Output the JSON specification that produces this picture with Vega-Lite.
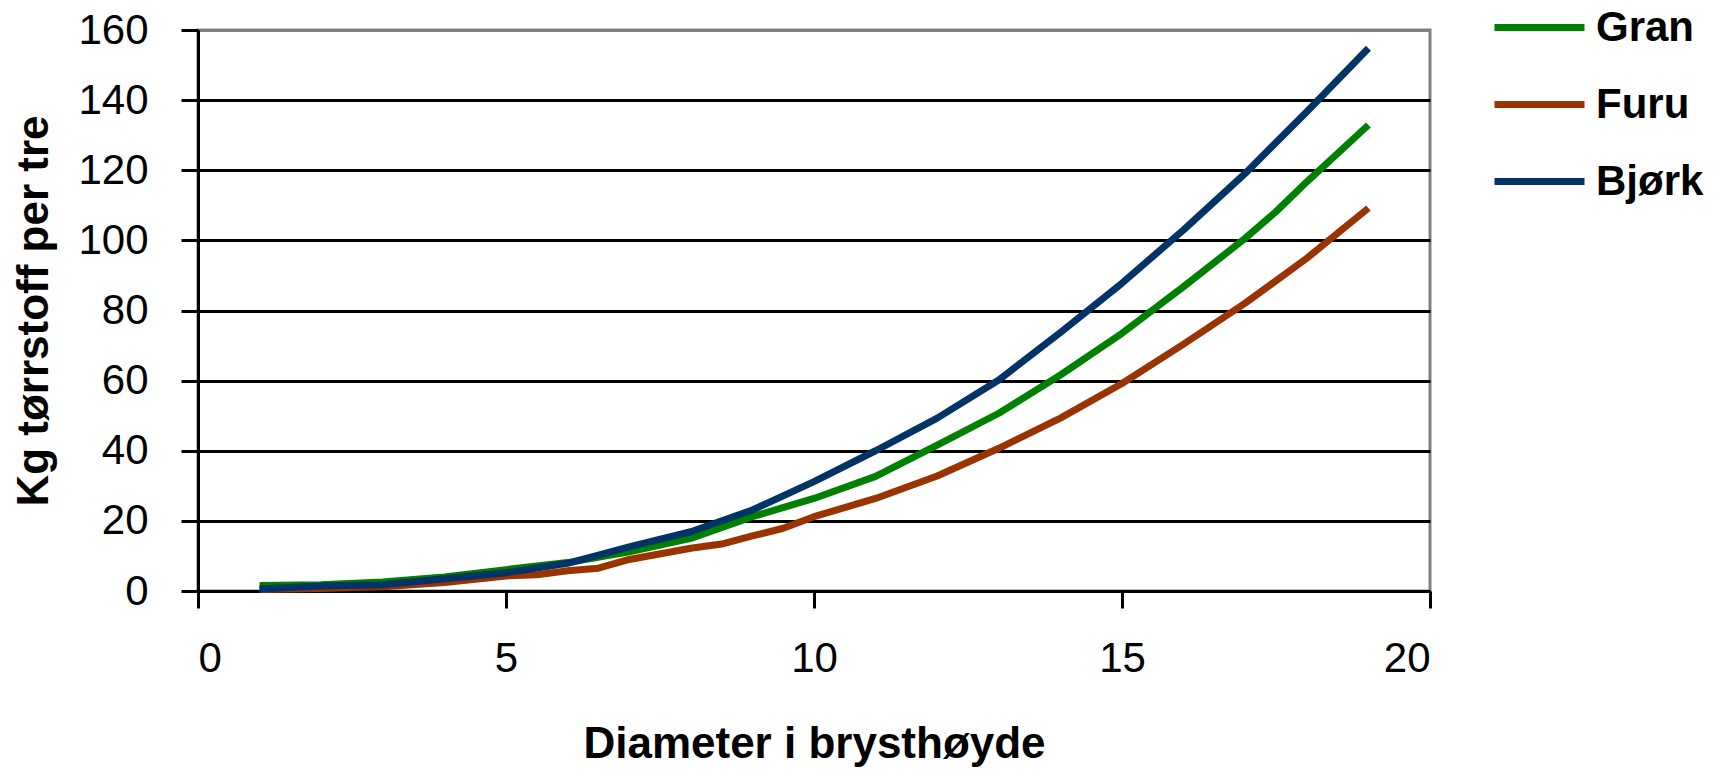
{
  "$schema": "https://vega.github.io/schema/vega-lite/v6.json",
  "width": 1232,
  "height": 561,
  "autosize": "none",
  "padding": {"left": 198, "top": 30, "right": 296, "bottom": 181},
  "background": "white",
  "config": {"font": "Liberation Sans", "view": {"stroke": "#808080", "strokeWidth": 3}},
  "data": {"values": [
    {"art": "Gran", "d": 1, "kg": 1.6}, {"art": "Gran", "d": 2, "kg": 1.8}, {"art": "Gran", "d": 3, "kg": 2.6}, {"art": "Gran", "d": 4, "kg": 4.0}, {"art": "Gran", "d": 5, "kg": 6.1}, {"art": "Gran", "d": 6, "kg": 8.1}, {"art": "Gran", "d": 7, "kg": 11.2}, {"art": "Gran", "d": 8, "kg": 15.0}, {"art": "Gran", "d": 9, "kg": 21.2}, {"art": "Gran", "d": 10, "kg": 26.4}, {"art": "Gran", "d": 11, "kg": 32.7}, {"art": "Gran", "d": 12, "kg": 41.6}, {"art": "Gran", "d": 13, "kg": 50.7}, {"art": "Gran", "d": 14, "kg": 61.6}, {"art": "Gran", "d": 15, "kg": 73.5}, {"art": "Gran", "d": 16, "kg": 86.8}, {"art": "Gran", "d": 17, "kg": 100.6}, {"art": "Gran", "d": 17.5, "kg": 108.2}, {"art": "Gran", "d": 18, "kg": 116.7}, {"art": "Gran", "d": 19, "kg": 132.9},
    {"art": "Furu", "d": 1, "kg": 0.4}, {"art": "Furu", "d": 2, "kg": 0.7}, {"art": "Furu", "d": 3, "kg": 1.2}, {"art": "Furu", "d": 4, "kg": 2.4}, {"art": "Furu", "d": 5, "kg": 4.3}, {"art": "Furu", "d": 5.5, "kg": 4.6}, {"art": "Furu", "d": 6, "kg": 5.8}, {"art": "Furu", "d": 6.5, "kg": 6.5}, {"art": "Furu", "d": 7, "kg": 9.0}, {"art": "Furu", "d": 8, "kg": 12.2}, {"art": "Furu", "d": 8.5, "kg": 13.4}, {"art": "Furu", "d": 9, "kg": 15.7}, {"art": "Furu", "d": 9.5, "kg": 17.9}, {"art": "Furu", "d": 10, "kg": 21.2}, {"art": "Furu", "d": 11, "kg": 26.4}, {"art": "Furu", "d": 12, "kg": 32.8}, {"art": "Furu", "d": 13, "kg": 40.7}, {"art": "Furu", "d": 14, "kg": 49.3}, {"art": "Furu", "d": 15, "kg": 59.2}, {"art": "Furu", "d": 16, "kg": 70.4}, {"art": "Furu", "d": 17, "kg": 82.1}, {"art": "Furu", "d": 18, "kg": 94.9}, {"art": "Furu", "d": 19, "kg": 109.2},
    {"art": "Bjørk", "d": 1, "kg": 0.6}, {"art": "Bjørk", "d": 2, "kg": 1.4}, {"art": "Bjørk", "d": 3, "kg": 1.8}, {"art": "Bjørk", "d": 4, "kg": 3.5}, {"art": "Bjørk", "d": 5, "kg": 5.2}, {"art": "Bjørk", "d": 6, "kg": 7.9}, {"art": "Bjørk", "d": 7, "kg": 12.6}, {"art": "Bjørk", "d": 8, "kg": 16.9}, {"art": "Bjørk", "d": 9, "kg": 23.1}, {"art": "Bjørk", "d": 10, "kg": 31.2}, {"art": "Bjørk", "d": 11, "kg": 40.0}, {"art": "Bjørk", "d": 12, "kg": 49.3}, {"art": "Bjørk", "d": 13, "kg": 60.2}, {"art": "Bjørk", "d": 14, "kg": 73.7}, {"art": "Bjørk", "d": 15, "kg": 87.8}, {"art": "Bjørk", "d": 16, "kg": 103.0}, {"art": "Bjørk", "d": 17, "kg": 119.1}, {"art": "Bjørk", "d": 18, "kg": 136.7}, {"art": "Bjørk", "d": 19, "kg": 154.8}
  ]},
  "mark": {"type": "line", "strokeWidth": 7, "strokeCap": "butt", "strokeJoin": "round"},
  "encoding": {
    "x": {
      "field": "d", "type": "quantitative",
      "scale": {"domain": [0, 20]},
      "axis": {
        "values": [0, 5, 10, 15, 20], "title": "Diameter i brysthøyde", "grid": false,
        "domainColor": "black", "domainWidth": 3, "tickColor": "black", "tickWidth": 3, "tickSize": 17,
        "labelFontSize": 42, "labelColor": "black", "labelPadding": 30,
        "titleFontSize": 44, "titleFontWeight": "bold", "titleColor": "black", "titlePadding": 43
      }
    },
    "y": {
      "field": "kg", "type": "quantitative",
      "scale": {"domain": [0, 160]},
      "axis": {
        "values": [0, 20, 40, 60, 80, 100, 120, 140, 160], "title": "Kg tørrstoff per tre", "grid": true,
        "gridColor": {"condition": {"test": "datum.value === 160", "value": "#808080"}, "value": "black"},
        "gridWidth": 3,
        "domainColor": "black", "domainWidth": 3, "tickColor": "black", "tickWidth": 3, "tickSize": 17,
        "labelFontSize": 42, "labelColor": "black", "labelPadding": 33,
        "titleFontSize": 44, "titleFontWeight": "bold", "titleColor": "black", "titlePadding": 21
      }
    },
    "color": {
      "field": "art", "type": "nominal",
      "scale": {"domain": ["Gran", "Furu", "Bjørk"], "range": ["#008000", "#993300", "#003366"]},
      "legend": {
        "title": null, "orient": "none", "legendX": 1293, "legendY": -51,
        "symbolType": "stroke", "symbolSize": 8100, "symbolStrokeWidth": 7,
        "labelFontSize": 42, "labelFontWeight": "bold", "labelColor": "black", "labelOffset": 8,
        "rowPadding": 7, "padding": 0
      }
    }
  }
}
